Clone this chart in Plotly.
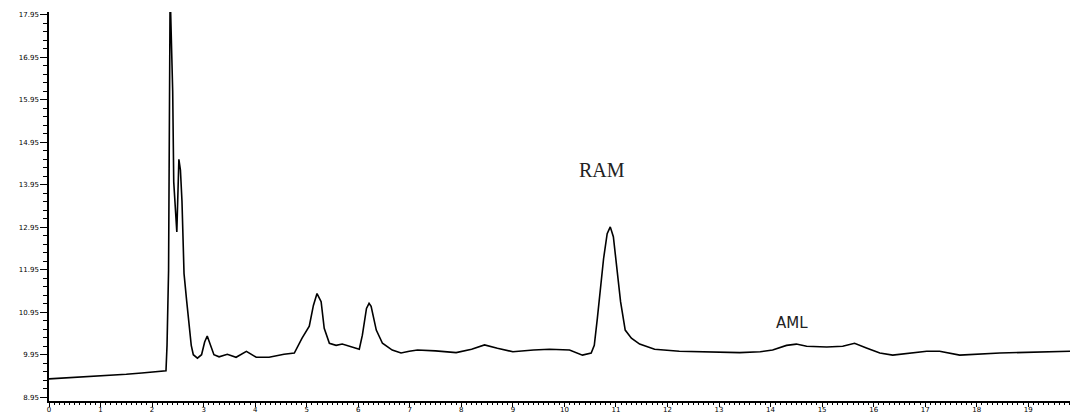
import plotly.graph_objects as go

# Retention time (min) and detector signal
rt = [0.00, 0.30, 0.60, 0.90, 1.20, 1.50, 1.80, 2.10, 2.27, 2.29, 2.32, 2.35, 2.38, 2.40,
      2.42, 2.45, 2.48, 2.52, 2.55, 2.58, 2.62, 2.67, 2.72, 2.76, 2.80, 2.88, 2.96, 3.02,
      3.07, 3.12, 3.20, 3.30, 3.46, 3.63, 3.83, 4.02, 4.27, 4.56, 4.76, 4.91, 5.05, 5.13,
      5.20, 5.28, 5.34, 5.44, 5.57, 5.69, 5.88, 6.02, 6.08, 6.16, 6.21, 6.25, 6.35, 6.47,
      6.66, 6.83, 6.99, 7.15, 7.50, 7.90, 8.20, 8.45, 8.70, 9.00, 9.40, 9.71, 10.10, 10.35,
      10.52, 10.58, 10.64, 10.68, 10.76, 10.83, 10.89, 10.95, 11.03, 11.09, 11.18, 11.30,
      11.46, 11.75, 12.23, 12.60, 13.00, 13.40, 13.80, 14.04, 14.31, 14.50, 14.70, 15.09,
      15.40, 15.63, 15.86, 16.12, 16.37, 16.76, 17.03, 17.28, 17.67, 18.45, 19.20, 19.81]
signal = [9.38, 9.40, 9.42, 9.44, 9.47, 9.49, 9.52, 9.55, 9.57, 10.17, 11.93, 18.50, 17.32, 16.15,
          14.02, 13.40, 12.84, 14.55, 14.30, 13.57, 11.86, 11.23, 10.57, 10.17, 9.95, 9.87, 9.95, 10.25,
          10.39, 10.20, 9.95, 9.90, 9.96, 9.89, 10.03, 9.89, 9.89, 9.96, 9.99, 10.34, 10.62, 11.11,
          11.39, 11.20, 10.57, 10.22, 10.17, 10.20, 10.13, 10.08, 10.41, 11.04, 11.16, 11.09, 10.53, 10.22,
          10.06, 9.99, 10.03, 10.06, 10.04, 10.00, 10.08, 10.18, 10.10, 10.02, 10.06, 10.08, 10.06, 9.94,
          9.99, 10.17, 10.81, 11.28, 12.21, 12.80, 12.96, 12.73, 11.81, 11.20, 10.53, 10.34,
          10.20, 10.08, 10.03, 10.02, 10.00, 10.00, 10.02, 10.06, 10.17, 10.20, 10.15, 10.13,
          10.15, 10.22, 10.11, 9.99, 9.94, 9.99, 10.03, 10.03, 9.94, 9.99, 10.01, 10.03]

x_ticks = list(range(0, 20))
y_ticks = [8.95, 9.95, 10.95, 11.95, 12.95, 13.95, 14.95, 15.95, 16.95, 17.95]
y_labels = ["8.95", "9.95", "10.95", "11.95", "12.95", "13.95", "14.95", "15.95", "16.95", "17.95"]

peak_names = ["RAM", "AML"]
peak_rt = [10.72, 14.42]
peak_y = [14.30, 10.69]

fig = go.Figure()
fig.add_trace(go.Scatter(x=rt, y=signal, mode="lines",
                         line=dict(color="black", width=1.6), showlegend=False,
                         hoverinfo="skip"))

fig.add_annotation(x=peak_rt[0], y=peak_y[0], text=peak_names[0], showarrow=False,
                   font=dict(family="Liberation Serif", size=20, color="#222222"))
fig.add_annotation(x=peak_rt[1], y=peak_y[1], text=peak_names[1], showarrow=False,
                   font=dict(family="DejaVu Sans", size=15, color="#222222"))

fig.update_layout(
    width=1070, height=413,
    margin=dict(l=49, r=0, t=12, b=12, autoexpand=False),
    paper_bgcolor="white", plot_bgcolor="white",
    font=dict(family="DejaVu Sans", size=8, color="black"),
    xaxis=dict(range=[0, 19.81], tickvals=x_ticks, ticktext=[str(v) for v in x_ticks],
               automargin=False, ticklabelstandoff=-3,
               showgrid=False, zeroline=False, showline=True, linecolor="black", linewidth=1.5,
               ticks="outside", ticklen=4, tickwidth=1.2, tickcolor="black",
               tickfont=dict(size=7, color="black"),
               minor=dict(dtick=0.1, tick0=0, ticks="outside", ticklen=2.5, tickwidth=1,
                          tickcolor="black", showgrid=False)),
    yaxis=dict(range=[8.86, 18.02], tickvals=y_ticks, ticktext=y_labels,
               automargin=False,
               showgrid=False, zeroline=False, showline=True, linecolor="black", linewidth=1.5,
               ticks="outside", ticklen=7, tickwidth=1.2, tickcolor="black",
               tickfont=dict(size=7, color="black"),
               minor=dict(dtick=0.2, tick0=8.95, ticks="outside", ticklen=4, tickwidth=1,
                          tickcolor="black", showgrid=False)),
)

fig.write_html("out.html")
